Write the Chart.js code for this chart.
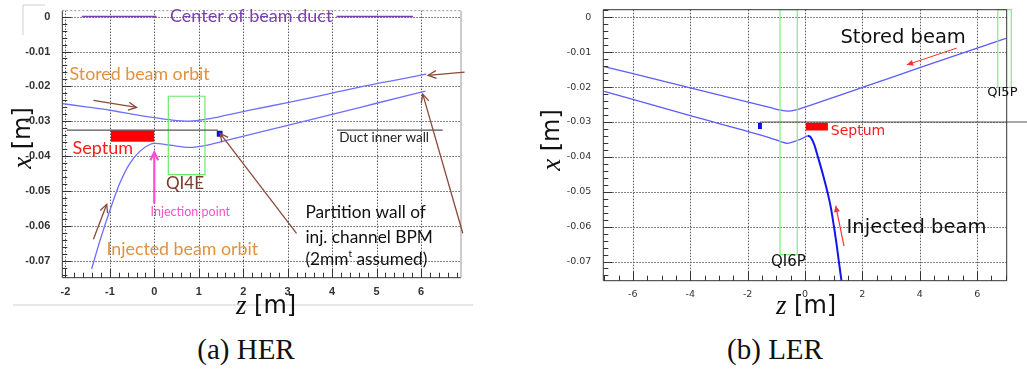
<!DOCTYPE html>
<html>
<head>
<meta charset="utf-8">
<script src="https://cdn.jsdelivr.net/npm/chart.js@4.4.1/dist/chart.umd.min.js"></script>
<style>
  body { margin: 0; background: #fff; width: 1027px; height: 374px; position: relative; overflow: hidden; }
  #her { position: absolute; left: 0; top: 0; }
  #ler { position: absolute; left: 530px; top: 0; }
  .cap { position: absolute; top: 333px; width: 200px; text-align: center; font: 29px "Liberation Serif", serif; color: #111; }
</style>
</head>
<body>
<canvas id="her" width="480" height="320"></canvas>
<canvas id="ler" width="497" height="320"></canvas>
<div class="cap" style="left:146px">(a) HER</div>
<div class="cap" style="left:675px">(b) LER</div>
<script>
// ---- HER (z [m] / x [m]) ----
const herZTicks = [-2, -1, 0, 1, 2, 3, 4, 5, 6];
const herXTicks = [0, -0.01, -0.02, -0.03, -0.04, -0.05, -0.06, -0.07];

const herStoredZ = [-2.07, -1.5, -1.0, -0.5, 0, 0.4, 0.8, 1.2, 1.6, 2.15, 3, 4, 5, 6.12];
const herStoredX = [-0.0249, -0.0259, -0.0268, -0.0279, -0.0289, -0.0296, -0.0299, -0.0293, -0.0283, -0.0268, -0.0246, -0.0219, -0.0192, -0.0165];
const herInjZ = [-1.41, -1.22, -1.0, -0.77, -0.55, -0.32, -0.1, 0, 0.35, 0.8, 1.14, 1.6, 2.15, 3, 4, 5, 6.1];
const herInjX = [-0.0722, -0.0640, -0.0555, -0.0475, -0.0420, -0.0385, -0.0366, -0.0363, -0.0368, -0.0374, -0.0369, -0.0355, -0.0338, -0.0311, -0.0280, -0.0248, -0.0213];

const herDuctCenter = [[-1.63, 0.05], [4.1, 5.82]];
const herWallX = -0.0325;
const herWallZ = [[-1.97, 1.43], [4.11, 6.49]];
const herSeptumZ = [-0.98, 0];
const herSeptumX = [-0.0325, -0.0358];
const herQuadZ = [0.315, 1.14];
const herQuadX = [-0.0228, -0.0452];
const herBpmZ = [1.40, 1.54];
const herBpmX = [-0.0327, -0.0344];

// ---- LER ----
const lerZTicks = [-6, -4, -2, 0, 2, 4, 6];
const lerXTicks = [0, -0.01, -0.02, -0.03, -0.04, -0.05, -0.06, -0.07];

const lerStoredZ = [-7, -4, -1.2, -0.85, -0.6, -0.3, 0, 2, 4, 7];
const lerStoredX = [-0.0141, -0.0202, -0.0259, -0.0266, -0.0269, -0.0265, -0.0257, -0.0201, -0.0144, -0.0060];
const lerLowerZ = [-7, -4, -1.2, -0.85, -0.61, -0.27, 0.1];
const lerLowerX = [-0.0212, -0.0282, -0.0346, -0.0356, -0.0361, -0.0353, -0.0339];
const lerInjZ = [0.1, 0.2, 0.31, 0.45, 0.62, 0.78, 0.9, 1.01, 1.1, 1.18, 1.28];
const lerInjX = [-0.0339, -0.0344, -0.0362, -0.0400, -0.0449, -0.0500, -0.0545, -0.0600, -0.0650, -0.0700, -0.0760];

const lerWallX = -0.03;
const lerWallZ = [-1.57, 7.8];
const lerBpmZ = [-1.64, -1.50];
const lerBpmX = [-0.0302, -0.0320];
const lerSeptumZ = [0.02, 0.80];
const lerSeptumX = [-0.0302, -0.0324];
const lerQ6Z = [-0.87, -0.27];
const lerQ6X = [0.0022, -0.068];
const lerQ5Z = [6.72, 7.19];
const lerQ5X = [0.0022, -0.0201];

// ---- helpers ----
const zip = (zs, xs) => zs.map((z, i) => ({ x: z, y: xs[i] }));
const seg = (z0, z1, x) => [{ x: z0, y: x }, { x: z1, y: x }];
const box = (zs, xs) => [{ x: zs[0], y: xs[0] }, { x: zs[1], y: xs[0] }, { x: zs[1], y: xs[1] }, { x: zs[0], y: xs[1] }, { x: zs[0], y: xs[0] }];
function line(data, color, width, extra) {
  return Object.assign({ data, borderColor: color, borderWidth: width, pointRadius: 0, showLine: true, fill: false }, extra || {});
}
function filledBox(zs, xs, color) {
  return [line(seg(zs[0], zs[1], xs[0]), color, 0),
          line(seg(zs[0], zs[1], xs[1]), color, 0, { fill: '-1', backgroundColor: color })];
}

// dotted grid under the data; frame, minor ticks, annotations and axis titles on top
const overlay = {
  id: 'overlay',
  beforeDatasetsDraw(chart, args, o) {
    const { ctx, chartArea: a, scales } = chart;
    ctx.save();
    ctx.strokeStyle = '#5a5a5a'; ctx.lineWidth = 1; ctx.setLineDash([1.5, 1.5]);
    o.zGrid.forEach(v => {
      const x = Math.round(scales.x.getPixelForValue(v)) + 0.5;
      ctx.beginPath(); ctx.moveTo(x, a.top); ctx.lineTo(x, a.bottom); ctx.stroke();
    });
    o.xGrid.forEach(v => {
      const y = Math.round(scales.y.getPixelForValue(v)) + 0.5;
      ctx.beginPath(); ctx.moveTo(a.left, y); ctx.lineTo(a.right, y); ctx.stroke();
    });
    ctx.restore();
  },
  afterDraw(chart, args, o) {
    const { ctx, chartArea: a, scales } = chart;
    const px = v => scales.x.getPixelForValue(v), py = v => scales.y.getPixelForValue(v);
    ctx.save();

    // minor / major ticks inside the frame
    ctx.strokeStyle = '#333'; ctx.lineWidth = 1;
    const ys = o.yMinor, yr = Math.round(0.01 / ys);
    for (let k = Math.ceil(scales.y.min / ys); k * ys <= scales.y.max + 1e-9; k++) {
      const y = Math.round(py(k * ys)) + 0.5, len = k % yr === 0 ? 9 : 5;
      ctx.beginPath(); ctx.moveTo(a.left, y); ctx.lineTo(a.left + len, y); ctx.stroke();
    }
    const xs = o.xMinor, xr = Math.round(o.xMajor / xs);
    for (let k = Math.ceil(scales.x.min / xs); k * xs <= scales.x.max + 1e-9; k++) {
      const x = Math.round(px(k * xs)) + 0.5, len = k % xr === 0 ? 9 : 5;
      ctx.beginPath(); ctx.moveTo(x, a.bottom); ctx.lineTo(x, a.bottom - len); ctx.stroke();
    }

    // frame
    const edges = { top: [a.left, a.top, a.right, a.top], right: [a.right, a.top, a.right, a.bottom],
                    bottom: [a.left, a.bottom, a.right, a.bottom], left: [a.left, a.top, a.left, a.bottom] };
    for (const k in o.frame) {
      const f = o.frame[k], e = edges[k];
      ctx.strokeStyle = f.color; ctx.lineWidth = f.width || 1; ctx.setLineDash(f.dash || []);
      ctx.beginPath(); ctx.moveTo(e[0], e[1]); ctx.lineTo(e[2], e[3]); ctx.stroke();
    }
    ctx.setLineDash([]);

    // decoration lines in canvas pixels
    (o.decor || []).forEach(d => {
      ctx.strokeStyle = d.color; ctx.lineWidth = 1;
      ctx.beginPath(); d.pts.forEach((p, i) => i ? ctx.lineTo(p[0], p[1]) : ctx.moveTo(p[0], p[1])); ctx.stroke();
    });

    // arrows
    (o.arrows || []).forEach(r => {
      const x0 = px(r.from[0]), y0 = py(r.from[1]), x1 = px(r.to[0]), y1 = py(r.to[1]);
      const ang = Math.atan2(y1 - y0, x1 - x0), h = r.head || 9, w = 0.45;
      ctx.strokeStyle = r.color; ctx.fillStyle = r.color; ctx.lineWidth = r.width || 1.3;
      ctx.beginPath(); ctx.moveTo(x0, y0); ctx.lineTo(x1, y1); ctx.stroke();
      const p1 = [x1 - h * Math.cos(ang - w), y1 - h * Math.sin(ang - w)];
      const p2 = [x1 - h * Math.cos(ang + w), y1 - h * Math.sin(ang + w)];
      ctx.beginPath(); ctx.moveTo(p1[0], p1[1]); ctx.lineTo(x1, y1); ctx.lineTo(p2[0], p2[1]);
      if (r.filled) { ctx.closePath(); ctx.fill(); } else ctx.stroke();
    });

    // text pieces
    const drawParts = (parts, x, y, align) => {
      let total = 0;
      parts.forEach(p => { ctx.font = p.font; p.w = ctx.measureText(p.t).width; total += p.w; });
      let cx = align === 'left' ? x : x - total / 2;
      parts.forEach(p => {
        ctx.font = p.font; ctx.fillStyle = p.color; ctx.textBaseline = 'middle'; ctx.textAlign = 'left';
        ctx.fillText(p.t, cx, y + (p.dy || 0)); cx += p.w;
      });
    };
    (o.notes || []).forEach(n => {
      const parts = n.parts || [{ t: n.t, font: n.font, color: n.color }];
      parts.forEach(p => { p.color = p.color || n.color; p.font = p.font || n.font; });
      drawParts(parts, px(n.z), py(n.x), n.align);
    });
    (o.titles || []).forEach(t => {
      ctx.save(); ctx.translate(t.cx, t.cy); if (t.rot) ctx.rotate(t.rot);
      drawParts(t.parts, 0, 0, 'center'); ctx.restore();
    });
    ctx.restore();
  }
};

function axes(zMin, zMax, xMin, xMax, zTicks, xTicks, yW, xH, tickFont) {
  const grid = { display: false };
  return {
    x: { type: 'linear', min: zMin, max: zMax,
      afterBuildTicks: s => { s.ticks = zTicks.map(v => ({ value: v })); },
      afterFit: s => { s.height = xH; },
      ticks: { font: tickFont, color: '#333', padding: 0, maxRotation: 0, autoSkip: false, callback: v => String(v) },
      grid, border: { display: false } },
    y: { type: 'linear', min: xMin, max: xMax,
      afterBuildTicks: s => { s.ticks = xTicks.map(v => ({ value: v })); },
      afterFit: s => { s.width = yW; },
      ticks: { font: tickFont, color: '#333', padding: 4, autoSkip: false, callback: v => String(v) },
      grid, border: { display: false } }
  };
}

const brown = '#8a4a3a', orange = '#e2913e';
const herFont = s => s + 'px Lato, "Open Sans", sans-serif';
const serifIt = 'italic 27px "Liberation Serif", serif';
const sansT = '24px "DejaVu Sans", sans-serif';

new Chart(document.getElementById('her'), {
  type: 'scatter',
  data: {
    datasets: [
      ...herDuctCenter.map(s => line(seg(s[0], s[1], 0), '#7b3fb0', 1.6)),
      ...herWallZ.map(s => line(seg(s[0], s[1], herWallX), '#555', 1.3)),
      ...filledBox(herSeptumZ, herSeptumX, '#ff0000'),
      ...filledBox(herBpmZ, herBpmX, '#1010cc'),
      line(box(herQuadZ, herQuadX), '#6de86d', 1.2),
      line(zip(herStoredZ, herStoredX), '#6f6fff', 1.3, { cubicInterpolationMode: 'monotone' }),
      line(zip(herInjZ, herInjX), '#6f6fff', 1.3, { cubicInterpolationMode: 'monotone' })
    ]
  },
  options: {
    responsive: false, animation: false,
    layout: { padding: { left: 0, top: 9.3, right: 19, bottom: 0 } },
    scales: axes(-2.07, 6.9, -0.0747, 0.0017, herZTicks, herXTicks, 62.3, 42.3,
      { family: '"Liberation Sans", Arial, sans-serif', size: 11, weight: 'bold' }),
    plugins: {
      legend: { display: false }, tooltip: { enabled: false },
      overlay: {
        zGrid: herZTicks, xGrid: herXTicks,
        yMinor: 0.002, xMinor: 0.2, xMajor: 1,
        frame: { left: { color: '#333' }, bottom: { color: '#333' }, top: { color: '#999', dash: [2, 2] }, right: { color: '#999' } },
        decor: [{ pts: [[45, 5], [23, 5], [23, 35]], color: '#d0d0d0' }, { pts: [[13, 305], [473, 305]], color: '#d0d0d0' }],
        notes: [
          { t: 'Center of beam duct', z: 2.18, x: 0, color: '#7b3fb0', font: herFont(18) },
          { t: 'Stored beam orbit', z: -0.33, x: -0.01656, color: orange, font: herFont(17.8) },
          { t: 'Septum', z: -1.16, x: -0.0377, color: '#ff1a1a', font: herFont(18) },
          { t: 'QI4E', z: 0.69, x: -0.0478, color: '#7a3a2c', font: herFont(17) },
          { t: 'Injection point', z: 0.81, x: -0.0560, color: '#ff4fd0', font: herFont(12.5) },
          { t: 'Injected beam orbit', z: 0.63, x: -0.0666, color: orange, font: herFont(17.8) },
          { t: 'Partition wall of', z: 3.40, x: -0.0560, color: '#111', font: herFont(17.3), align: 'left' },
          { t: 'inj. channel BPM', z: 3.40, x: -0.0632, color: '#111', font: herFont(17.3), align: 'left' },
          { parts: [{ t: '(2mm' }, { t: 't', font: herFont(10), dy: -6 }, { t: ' assumed)' }], z: 3.40, x: -0.0696, color: '#111', font: herFont(17.3), align: 'left' },
          { t: 'Duct inner wall', z: 5.17, x: -0.0346, color: '#222', font: herFont(13.5) }
        ],
        arrows: [
          { from: [-1.37, -0.0240], to: [-0.40, -0.0260], color: brown },
          { from: [6.98, -0.0159], to: [6.16, -0.0168], color: brown },
          { from: [3.20, -0.0620], to: [1.48, -0.0334], color: brown },
          { from: [6.94, -0.0620], to: [6.04, -0.0222], color: brown },
          { from: [-1.37, -0.0637], to: [-1.07, -0.0537], color: brown },
          { from: [0, -0.0535], to: [0, -0.0388], color: '#ff4fd0', width: 2.2 }
        ],
        titles: [
          { cx: 24, cy: 138, rot: -Math.PI / 2, parts: [{ t: 'x', font: serifIt, color: '#111' }, { t: ' [m]', font: sansT, color: '#111' }] },
          { cx: 266, cy: 307, parts: [{ t: 'z', font: serifIt, color: '#111' }, { t: ' [m]', font: sansT, color: '#111' }] }
        ]
      }
    }
  },
  plugins: [overlay]
});

const lerFont = s => s + 'px "DejaVu Sans", sans-serif';
new Chart(document.getElementById('ler'), {
  type: 'scatter',
  data: {
    datasets: [
      line(seg(lerWallZ[0], lerWallZ[1], lerWallX), '#555', 1.2, { clip: false }),
      ...filledBox(lerBpmZ, lerBpmX, '#0a0aff'),
      ...filledBox(lerSeptumZ, lerSeptumX, '#ff0000'),
      line(box(lerQ6Z, lerQ6X), '#7df07d', 1.2),
      line(box(lerQ5Z, lerQ5X), '#7df07d', 1.2, { clip: false }),
      line(zip(lerStoredZ, lerStoredX), '#5c5cff', 1.3, { cubicInterpolationMode: 'monotone' }),
      line(zip(lerLowerZ, lerLowerX), '#5c5cff', 1.3, { cubicInterpolationMode: 'monotone' }),
      line(zip(lerInjZ, lerInjX), '#1414f0', 2, { cubicInterpolationMode: 'monotone' })
    ]
  },
  options: {
    responsive: false, animation: false,
    layout: { padding: { left: 0, top: 7.3, right: 20.3, bottom: 0 } },
    scales: axes(-7.03, 7.03, -0.0755, 0.0022, lerZTicks, lerXTicks, 73.3, 39.3,
      { family: '"DejaVu Sans", sans-serif', size: 9.5 }),
    plugins: {
      legend: { display: false }, tooltip: { enabled: false },
      overlay: {
        zGrid: lerZTicks, xGrid: lerXTicks,
        yMinor: 0.002, xMinor: 0.5, xMajor: 2,
        frame: { left: { color: '#333' }, bottom: { color: '#333' }, top: { color: '#333' }, right: { color: '#333' } },
        notes: [
          { t: 'Stored beam', z: 3.42, x: -0.00585, color: '#111', font: lerFont(19.5) },
          { t: 'Septum', z: 0.90, x: -0.0328, color: '#ff1a1a', font: lerFont(14), align: 'left' },
          { t: 'Injected beam', z: 1.45, x: -0.0603, color: '#111', font: lerFont(19.5), align: 'left' },
          { t: 'QI5P', z: 6.88, x: -0.0217, color: '#111', font: lerFont(13) },
          { t: 'QI6P', z: -0.58, x: -0.0701, color: '#111', font: lerFont(15) }
        ],
        arrows: [
          { from: [5.29, -0.0088], to: [3.55, -0.0136], color: '#ff3030', width: 1, head: 7, filled: true },
          { from: [1.36, -0.0656], to: [1.07, -0.0540], color: '#ff3030', width: 1.2, head: 7, filled: true }
        ],
        titles: [
          { cx: 23, cy: 140, rot: -Math.PI / 2, parts: [{ t: 'x', font: serifIt, color: '#111' }, { t: ' [m]', font: sansT, color: '#111' }] },
          { cx: 276, cy: 307, parts: [{ t: 'z', font: serifIt, color: '#111' }, { t: ' [m]', font: sansT, color: '#111' }] }
        ]
      }
    }
  },
  plugins: [overlay]
});
</script>
</body>
</html>
